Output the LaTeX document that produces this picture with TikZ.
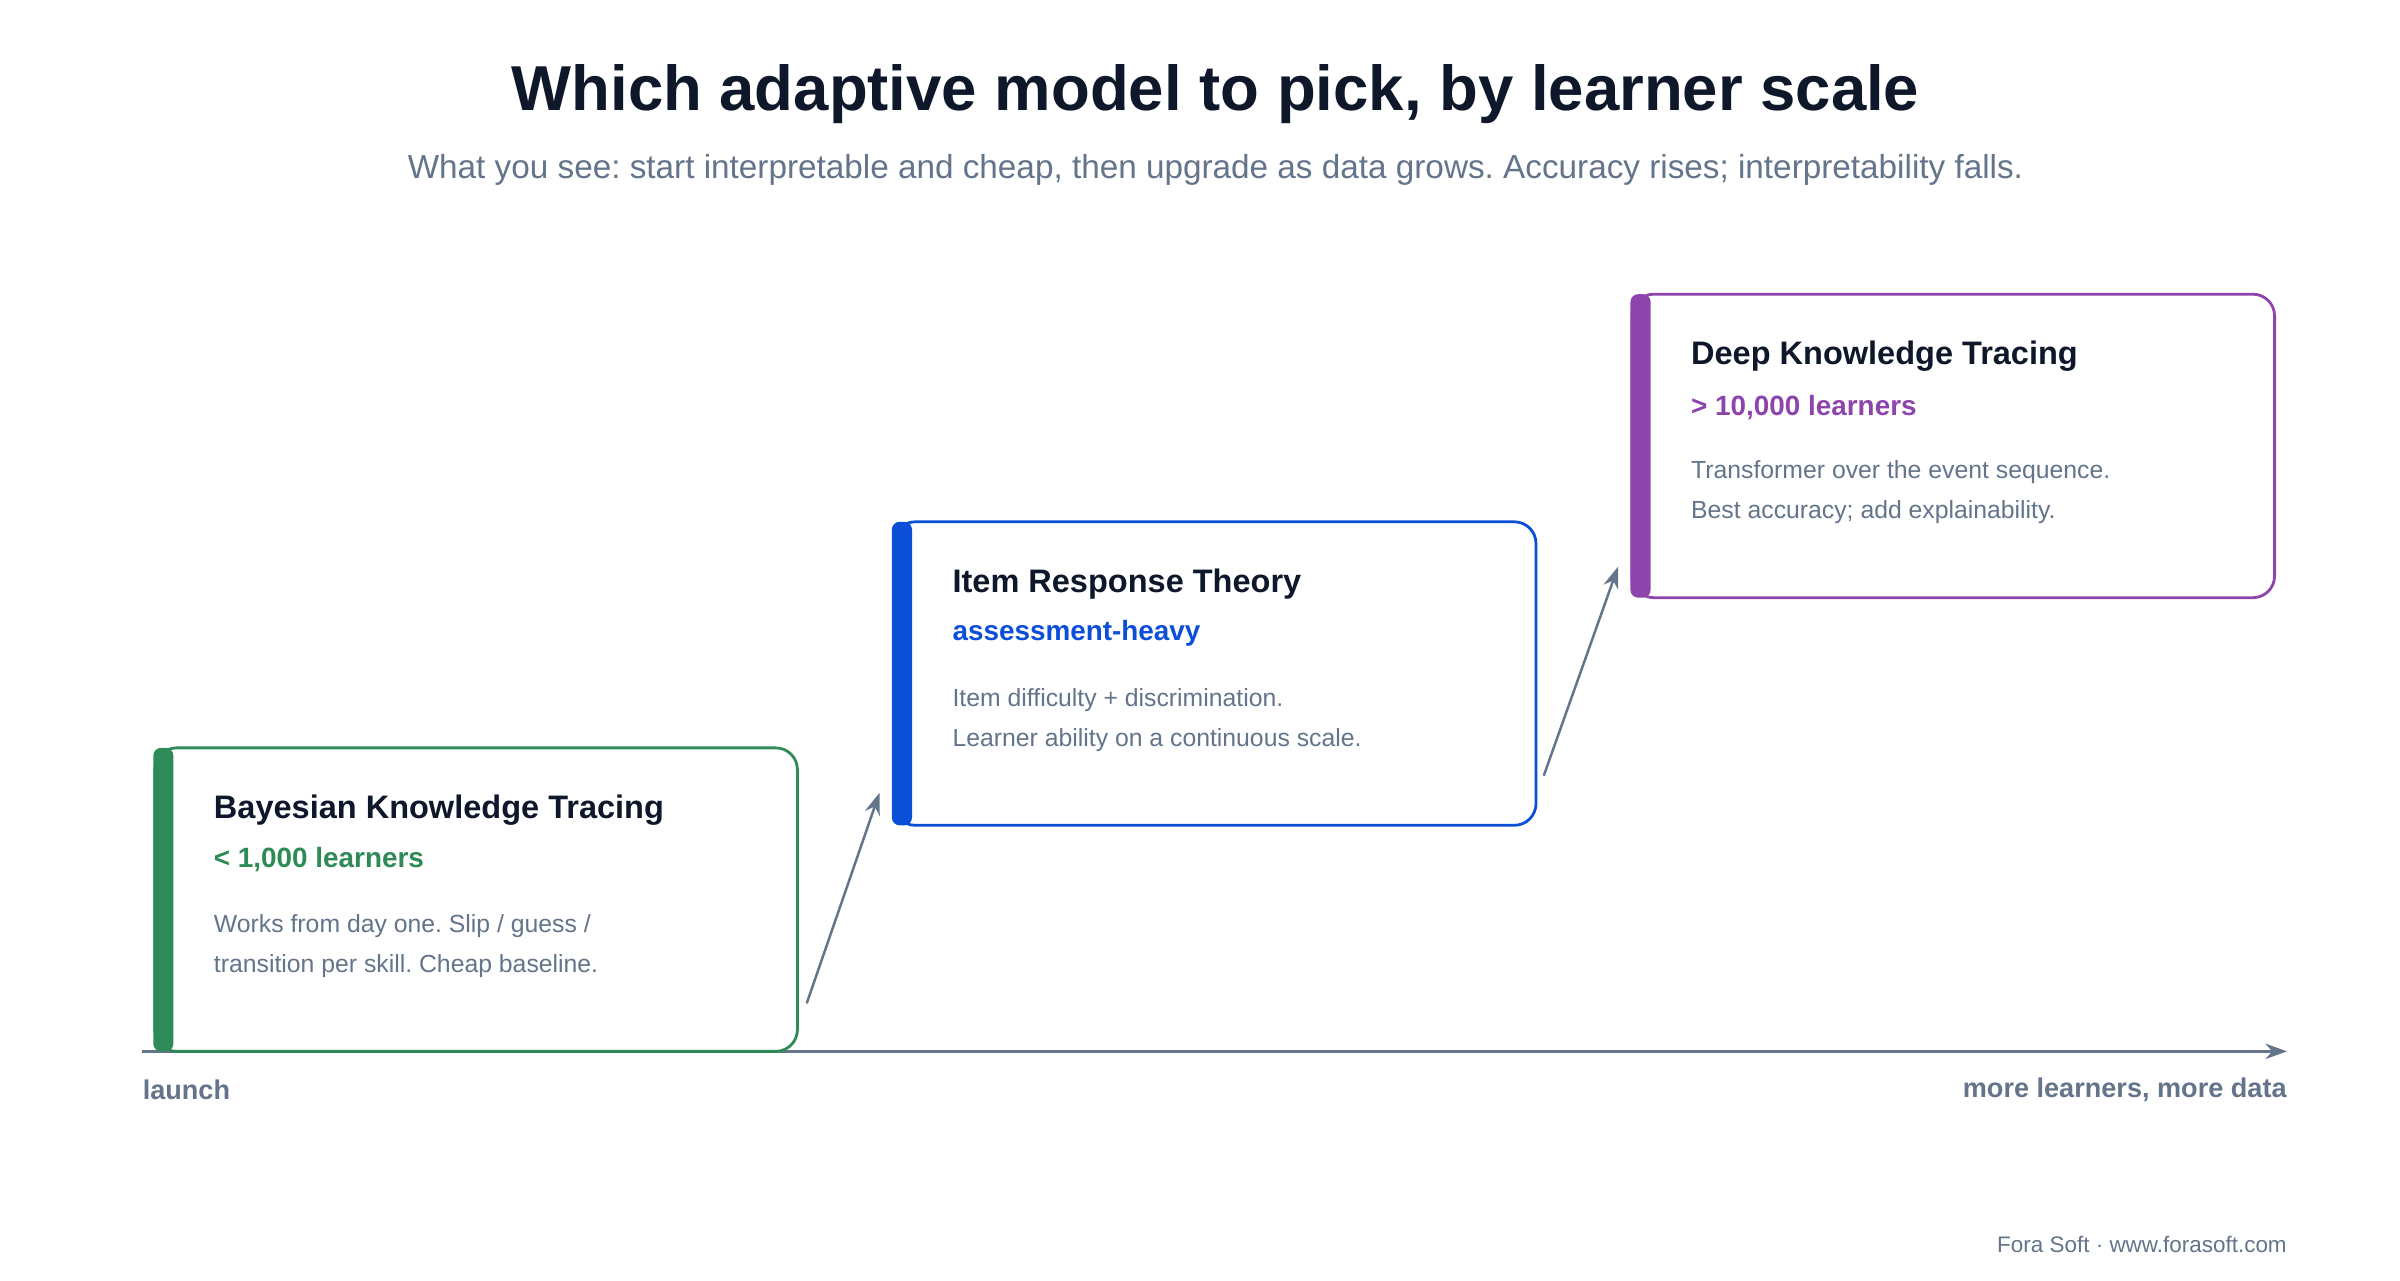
\documentclass[tikz,border=0pt]{standalone}
\usepackage{fontspec}
\setmainfont{Liberation Sans}
\usetikzlibrary{arrows.meta}
\definecolor{ink}{HTML}{0F172A}
\definecolor{mute}{HTML}{64748B}
\definecolor{cg}{HTML}{2E8B57}
\definecolor{cb}{HTML}{0B4FD9}
\definecolor{cp}{HTML}{8E44AD}
\tikzset{
 card/.style={draw=#1,line width=1.8pt,rounded corners=14pt,fill=white},
 bar/.style={fill=#1,rounded corners=5pt},
 ttl/.style={anchor=west,text=ink,font=\fontsize{21}{25}\selectfont\bfseries,inner sep=0},
 sub/.style={anchor=west,text=#1,font=\fontsize{18}{21}\selectfont\bfseries,inner sep=0},
 body/.style={anchor=west,text=mute,font=\fontsize{16}{19}\selectfont,inner sep=0},
 conn/.style={draw=mute,line width=1.6pt,-{Stealth[length=14pt,width=10pt]}},
 lab/.style={text=mute,font=\fontsize{17.5}{20}\selectfont\bfseries,inner sep=0}
}
\begin{document}
\frenchspacing
\begin{tikzpicture}[x=1pt,y=-1pt]
\useasboundingbox[fill=white] (0,0) rectangle (1550,826.7);
\node[text=ink,font=\fontsize{41}{46}\selectfont\bfseries] (title) at (785,61) {Which adaptive model to pick, by learner scale};
\node[text=mute,font=\fontsize{21.5}{25}\selectfont] (subtitle) at (785,110) {What you see: start interpretable and cheap, then upgrade as data grows. Accuracy rises; interpretability falls.};
% axis
\coordinate (ax0) at (92,679); \coordinate (ax1) at (1477,679);
\draw[conn] (ax0) -- (ax1);
\node[lab,anchor=west] (launch) at (92,704) {launch};
\node[lab,anchor=east] (more) at (1477,704) {more learners, more data};
\node[text=mute,font=\fontsize{14.5}{17}\selectfont,anchor=east,inner sep=0] (foot) at (1477,804) {Fora Soft · www.forasoft.com};
% box1
\draw[card=cg] (100,483) rectangle (515,679);
\fill[bar=cg] (99,483) rectangle (112,679);
\node[ttl] (t1) at (138,523) {Bayesian Knowledge Tracing};
\node[sub=cg] (s1) at (138,555) {< 1,000 learners};
\node[body] (d1a) at (138,598) {Works from day one. Slip / guess /};
\node[body] (d1b) at (138,624) {transition per skill. Cheap baseline.};
% box2
\draw[card=cb] (577,337) rectangle (992,533);
\fill[bar=cb] (576,337) rectangle (589,533);
\node[ttl] (t2) at (615,377) {Item Response Theory};
\node[sub=cb] (s2) at (615,409) {assessment-heavy};
\node[body] (d2a) at (615,452) {Item difficulty + discrimination.};
\node[body] (d2b) at (615,478) {Learner ability on a continuous scale.};
% box3
\draw[card=cp] (1054,190) rectangle (1469,386);
\fill[bar=cp] (1053,190) rectangle (1066,386);
\node[ttl] (t3) at (1092,230) {Deep Knowledge Tracing};
\node[sub=cp] (s3) at (1092,263) {> 10,000 learners};
\node[body] (d3a) at (1092,305) {Transformer over the event sequence.};
\node[body] (d3b) at (1092,331) {Best accuracy; add explainability.};
% connectors
\coordinate (c1s) at (521,648); \coordinate (c1e) at (568,512);
\coordinate (c2s) at (997,501); \coordinate (c2e) at (1045,366);
\draw[conn] (c1s) -- (c1e);
\draw[conn] (c2s) -- (c2e);
\end{tikzpicture}
\end{document}
